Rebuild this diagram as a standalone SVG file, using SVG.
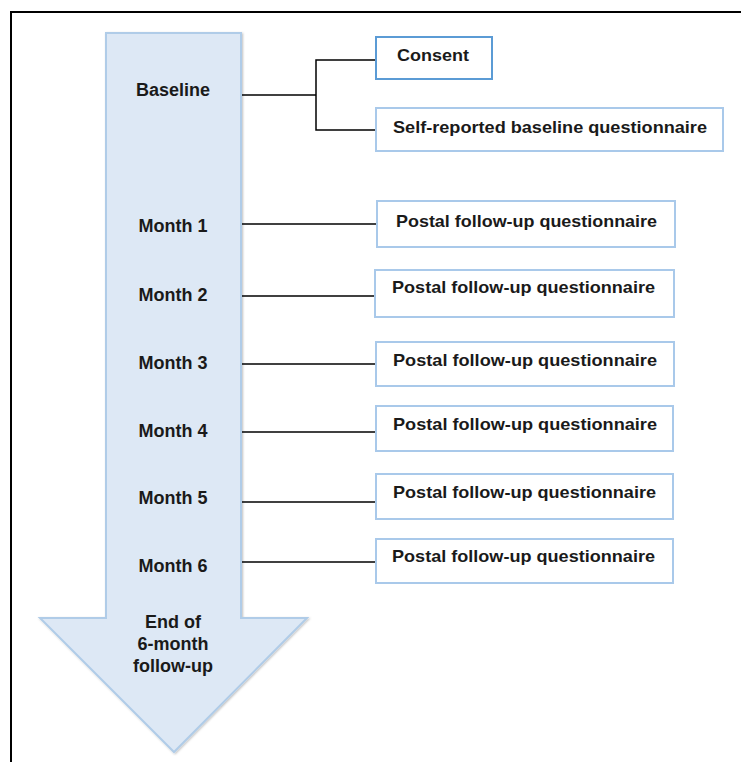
<svg xmlns="http://www.w3.org/2000/svg" width="741" height="762" viewBox="0 0 741 762">
<style>
.lbl{font-family:"Liberation Sans",Arial,sans-serif;font-weight:bold;font-size:18px;fill:#1a1a1a;text-anchor:middle}
.bt{font-family:"Liberation Sans",Arial,sans-serif;font-weight:bold;font-size:17px;fill:#1a1a1a;text-anchor:middle}
.box{fill:#ffffff;stroke:#a9c9ea;stroke-width:2}
.box2{fill:#ffffff;stroke:#5b9bd5;stroke-width:2}
.conn line,.conn polyline{stroke:#000;stroke-width:1.5;fill:none}
</style>
<defs>
<filter id="sh" x="-10%" y="-10%" width="120%" height="120%">
<feDropShadow dx="1" dy="1" stdDeviation="1" flood-color="#000" flood-opacity="0.25"/>
</filter>
</defs>
<rect x="0" y="0" width="741" height="762" fill="#ffffff"/>
<rect x="11" y="12" width="760" height="790" fill="none" stroke="#000" stroke-width="2"/>
<g id="timeline">
<polygon points="106,33 241,33 241,618 307,618 174,752 40,618 106,618" fill="#dde8f5" stroke="#b0cce8" stroke-width="2" filter="url(#sh)"/>
<text class="lbl" x="173" y="96">Baseline</text>
<text class="lbl" x="173" y="232">Month 1</text>
<text class="lbl" x="173" y="301">Month 2</text>
<text class="lbl" x="173" y="369">Month 3</text>
<text class="lbl" x="173" y="437">Month 4</text>
<text class="lbl" x="173" y="504">Month 5</text>
<text class="lbl" x="173" y="572">Month 6</text>
<text class="lbl" x="173" y="628">End of</text>
<text class="lbl" x="173" y="650">6-month</text>
<text class="lbl" x="173" y="672">follow-up</text>
</g>
<g class="conn" id="connectors">
<line x1="242" y1="95" x2="316" y2="95"/>
<polyline points="375,60 316,60 316,130 375,130"/>
<line x1="242" y1="224" x2="376" y2="224"/>
<line x1="242" y1="296" x2="374" y2="296"/>
<line x1="242" y1="364" x2="375" y2="364"/>
<line x1="242" y1="432" x2="375" y2="432"/>
<line x1="242" y1="502" x2="375" y2="502"/>
<line x1="242" y1="562" x2="375" y2="562"/>
</g>
<g id="consent">
<rect class="box2" x="376" y="37" width="116" height="42"/>
<text class="bt" x="433" y="61" font-size="18" textLength="72" lengthAdjust="spacingAndGlyphs">Consent</text>
</g>
<g id="baseline-q">
<rect class="box" x="376" y="108" width="347" height="43"/>
<text class="bt" x="550" y="133" textLength="314" lengthAdjust="spacingAndGlyphs">Self-reported baseline questionnaire</text>
</g>
<g id="m1">
<rect class="box" x="377" y="201" width="298" height="46"/>
<text class="bt" x="526.5" y="227" textLength="261" lengthAdjust="spacingAndGlyphs">Postal follow-up questionnaire</text>
</g>
<g id="m2">
<rect class="box" x="375" y="270" width="299" height="47"/>
<text class="bt" x="523.5" y="293" textLength="263" lengthAdjust="spacingAndGlyphs">Postal follow-up questionnaire</text>
</g>
<g id="m3">
<rect class="box" x="376" y="342" width="298" height="44"/>
<text class="bt" x="525" y="366" textLength="264" lengthAdjust="spacingAndGlyphs">Postal follow-up questionnaire</text>
</g>
<g id="m4">
<rect class="box" x="376" y="406" width="297" height="45"/>
<text class="bt" x="525" y="430" textLength="264" lengthAdjust="spacingAndGlyphs">Postal follow-up questionnaire</text>
</g>
<g id="m5">
<rect class="box" x="376" y="474" width="297" height="45"/>
<text class="bt" x="524.5" y="498" textLength="263" lengthAdjust="spacingAndGlyphs">Postal follow-up questionnaire</text>
</g>
<g id="m6">
<rect class="box" x="376" y="539" width="297" height="44"/>
<text class="bt" x="523.5" y="562" textLength="263" lengthAdjust="spacingAndGlyphs">Postal follow-up questionnaire</text>
</g>
</svg>
